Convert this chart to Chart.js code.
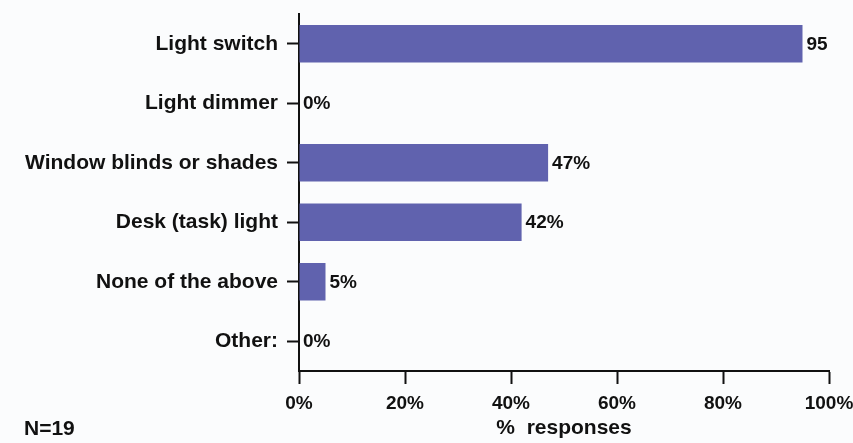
<!DOCTYPE html>
<html>
<head>
<meta charset="utf-8">
<script src="https://cdn.jsdelivr.net/npm/chart.js@4"></script>
<style>
  html, body { margin: 0; padding: 0; background: #fbfcfd; }
  #wrap { width: 853px; height: 443px; position: relative; }
</style>
</head>
<body>
<div id="wrap"><canvas id="c"></canvas></div>
<script>
// Survey answers and their shares of responses (%)
const categories = [
  'Light switch',
  'Light dimmer',
  'Window blinds or shades',
  'Desk (task) light',
  'None of the above',
  'Other:'
];
const responses = [95, 0, 47, 42, 5, 0];
const valueLabels = ['95', '0%', '47%', '42%', '5%', '0%'];
const xTicks = [0, 20, 40, 60, 80, 100];
const sampleNote = 'N=19';

const FONT = '"Liberation Sans", Arial, sans-serif';

const barLabels = {
  id: 'barLabels',
  afterDatasetsDraw(chart) {
    const ctx = chart.ctx;
    const meta = chart.getDatasetMeta(0);
    ctx.save();
    ctx.font = 'bold 19px ' + FONT;
    ctx.fillStyle = '#111';
    ctx.textAlign = 'left';
    ctx.textBaseline = 'middle';
    meta.data.forEach((bar, i) => {
      ctx.fillText(valueLabels[i], bar.x + 4, bar.y + 1);
    });
    ctx.restore();
  }
};

const footNote = {
  id: 'footNote',
  afterDraw(chart) {
    const ctx = chart.ctx;
    ctx.save();
    ctx.font = 'bold 21px ' + FONT;
    ctx.fillStyle = '#111';
    ctx.textAlign = 'left';
    ctx.textBaseline = 'middle';
    ctx.fillText(sampleNote, 24, 429);
    ctx.restore();
  }
};

const paperBg = {
  id: 'paperBg',
  beforeDraw(chart) {
    const ctx = chart.ctx;
    ctx.save();
    ctx.fillStyle = '#fbfcfd';
    ctx.fillRect(0, 0, chart.width, chart.height);
    ctx.restore();
  }
};

new Chart(document.getElementById('c'), {
  type: 'bar',
  data: {
    labels: categories,
    datasets: [{
      data: responses,
      backgroundColor: '#6062ae',
      borderWidth: 0,
      barPercentage: 0.63,
      categoryPercentage: 1.0
    }]
  },
  options: {
    indexAxis: 'y',
    responsive: true,
    maintainAspectRatio: false,
    animation: false,
    layout: { padding: { left: 0, right: 24, top: 14, bottom: 0 } },
    plugins: {
      legend: { display: false },
      tooltip: { enabled: false }
    },
    scales: {
      y: {
        afterFit(scale) {
          scale.width = 299;
          scale.paddingTop = 0;
          scale.paddingBottom = 0;
        },
        grid: {
          display: true,
          offset: false,
          drawOnChartArea: false,
          drawTicks: true,
          tickLength: 12,
          tickWidth: 2,
          tickColor: '#111'
        },
        border: { display: true, color: '#111', width: 2 },
        ticks: {
          color: '#111',
          padding: 9,
          font: { family: FONT, size: 21, weight: 'bold' }
        }
      },
      x: {
        min: 0,
        max: 100,
        afterFit(scale) {
          scale.height = 72;
          scale.paddingLeft = 0;
          scale.paddingRight = 0;
        },
        afterBuildTicks(scale) { scale.ticks = xTicks.map(v => ({ value: v })); },
        grid: {
          display: true,
          drawOnChartArea: false,
          drawTicks: true,
          tickLength: 13,
          tickWidth: 2,
          tickColor: '#111'
        },
        border: { display: true, color: '#111', width: 2 },
        ticks: {
          color: '#111',
          padding: 8,
          maxRotation: 0,
          font: { family: FONT, size: 19, weight: 'bold' },
          callback: (v) => v + '%'
        },
        title: {
          display: true,
          text: '%  responses',
          color: '#111',
          padding: { top: 0, bottom: 2 },
          font: { family: FONT, size: 21, weight: 'bold' }
        }
      }
    }
  },
  plugins: [paperBg, barLabels, footNote]
});
</script>
</body>
</html>
